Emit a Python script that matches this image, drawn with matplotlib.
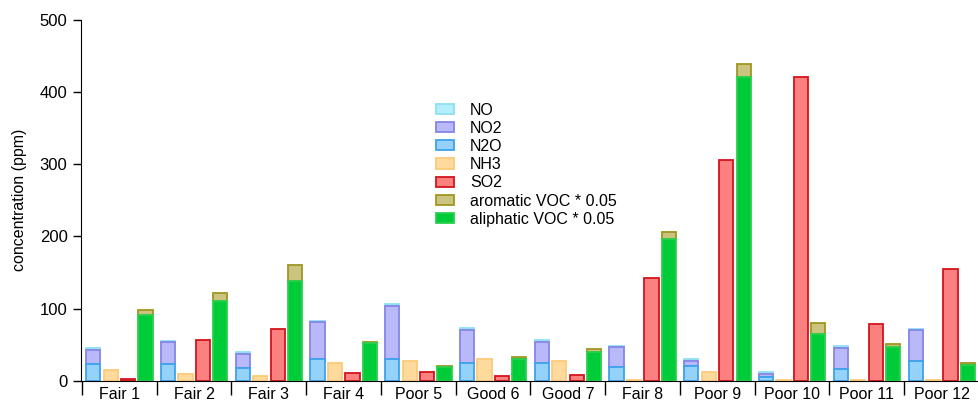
import numpy as np
import matplotlib.pyplot as plt

plt.rcParams['font.family'] = ['Liberation Sans', 'DejaVu Sans']

samples = ["Fair 1", "Fair 2", "Fair 3", "Fair 4", "Poor 5", "Good 6",
           "Good 7", "Fair 8", "Poor 9", "Poor 10", "Poor 11", "Poor 12"]

# ppm values
n2o = [24, 23, 17.5, 30, 31, 25, 24.5, 19.5, 21, 5, 16.5, 27.5]
no2 = [19, 30.5, 20, 51, 73, 45.5, 30, 27, 6.5, 4.5, 29.5, 42.5]
no = [2, 2.5, 3, 2.5, 2.5, 2.5, 2.5, 2.5, 2.5, 3, 2.5, 2.5]
nh3 = [15.5, 9, 6.5, 25, 27.5, 30, 27.5, 1.5, 13, 1.5, 1.5, 1.5]
so2 = [3, 56.5, 72, 10.5, 12, 7, 8.5, 142, 305, 421, 79, 155]
aliphatic = [91, 110.5, 139, 52, 19, 30.5, 40, 196, 420, 65.5, 47, 21.5]
aromatic = [7.5, 11.5, 21, 2, 1.5, 2, 4.5, 10.5, 19, 14.5, 4.5, 3]

x = np.arange(len(samples)) + 0.5
w = 0.19
offs = [-0.348, -0.115, 0.118, 0.351]

fig = plt.figure(figsize=(9.79, 4.03), dpi=100)
ax = fig.add_axes([80.7 / 979, 0.0546, (979 - 80.7) / 979, 0.897])

n2o = np.array(n2o)
no2 = np.array(no2)
aliphatic = np.array(aliphatic)

ax.bar(x + offs[0], no, w, bottom=n2o + no2, color='#b4eefb', edgecolor='#8fdff5', lw=1.3, label='NO')
ax.bar(x + offs[0], no2, w, bottom=n2o, color='#b9b9f9', edgecolor='#8585e6', lw=1.3, label='NO2')
ax.bar(x + offs[0], n2o, w, color='#94d2fa', edgecolor='#3ea2ec', lw=1.3, label='N2O')
ax.bar(x + offs[1], nh3, w, color='#fedb9c', edgecolor='#fcca78', lw=1.3, label='NH3')
ax.bar(x + offs[2], so2, w, color='#fb8080', edgecolor='#d4141c', lw=1.3, label='SO2')
ax.bar(x + offs[3], aromatic, w, bottom=aliphatic, color='#cbc47e', edgecolor='#9f9620', lw=1.3,
       label='aromatic VOC * 0.05')
ax.bar(x + offs[3], aliphatic, w, color='#00cc3a', edgecolor='#2ccf4e', lw=1.3, label='aliphatic VOC * 0.05')

ax.set_xlim(-0.017, 11.85)
ax.set_ylim(0, 500)
ax.set_yticks([0, 100, 200, 300, 400, 500])
ax.tick_params(axis='y', labelsize=12, length=6, width=1)
ax.set_ylabel('concentration (ppm)', fontsize=11.5, labelpad=9)

ax.set_xticks(np.arange(len(samples) + 1))
ax.set_xticklabels([])
ax.tick_params(axis='x', which='major', length=10, width=1)
ax.set_xticks(x, minor=True)
ax.set_xticklabels(samples, minor=True, fontsize=11.5)
ax.tick_params(axis='x', which='minor', length=0, pad=4)

ax.spines['top'].set_visible(False)
ax.spines['right'].set_visible(False)
ax.spines['left'].set_bounds(0, 500)

ax.legend(loc='upper left', bbox_to_anchor=(0.38, 0.81), frameon=False, fontsize=11.5,
          handlelength=1.1, handleheight=0.6, handletextpad=1.0, labelspacing=0.2)

fig.savefig('out.png', dpi=100)
